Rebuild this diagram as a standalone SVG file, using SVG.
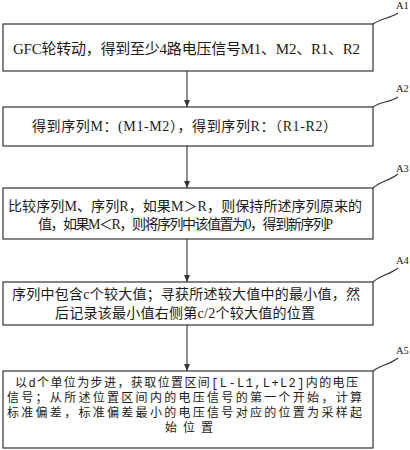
<svg xmlns="http://www.w3.org/2000/svg" width="410" height="450" viewBox="0 0 410 450">
<defs>
<style>
.box{fill:#fff;stroke:#333;stroke-width:1.2}
.t{font-family:"Liberation Serif","Noto Sans CJK SC",serif;fill:#1a1a1a}
.b{font-size:14px}
.s{font-size:12px}
.lbl{font-family:"Liberation Serif",serif;font-size:10.5px;fill:#1a1a1a}
.ld{fill:none;stroke:#333;stroke-width:1.1}
.cn{stroke:#333;stroke-width:1.1;fill:none}
.m{font-family:"Liberation Mono",monospace}
</style>
<marker id="ah" markerWidth="8" markerHeight="8" refX="7" refY="4" orient="auto" markerUnits="userSpaceOnUse">
<path d="M0,1 L7,4 L0,7 Z" fill="#333"/>
</marker>
</defs>
<rect width="410" height="450" fill="#fff"/>
<g id="connectors">
<line class="cn" x1="187" y1="71" x2="187" y2="107" marker-end="url(#ah)"/>
<line class="cn" x1="187" y1="146" x2="187" y2="188" marker-end="url(#ah)"/>
<line class="cn" x1="187" y1="239" x2="187" y2="282" marker-end="url(#ah)"/>
<line class="cn" x1="187" y1="325" x2="187" y2="371" marker-end="url(#ah)"/>
</g>
<g id="A1">
<rect class="box" x="3" y="24" width="370" height="47"/>
<text class="t" x="13" y="54" font-size="15" textLength="347" lengthAdjust="spacing">GFC轮转动，得到至少4路电压信号M1、M2、R1、R2</text>
<path class="ld" d="M373,24 C381,18 389,19 398,13"/>
<text class="lbl" x="396" y="9">A1</text>
</g>
<g id="A2">
<rect class="box" x="3" y="107" width="370" height="39"/>
<text class="t b" x="32" y="131" textLength="305" lengthAdjust="spacing">得到序列M：(M1-M2），得到序列R：（R1-R2）</text>
<path class="ld" d="M373,107 C381,101 389,103 398,97"/>
<text class="lbl" x="396" y="92">A2</text>
</g>
<g id="A3">
<rect class="box" x="3" y="188" width="370" height="51"/>
<text class="t b" x="8" y="211" textLength="354" lengthAdjust="spacing">比较序列M、序列R，如果M＞R，则保持所述序列原来的</text>
<text class="t b" x="38" y="229" textLength="295" lengthAdjust="spacing">值，如果M＜R，则将序列中该值置为0，得到新序列P</text>
<path class="ld" d="M373,188 C381,181 389,181 398,174"/>
<text class="lbl" x="396" y="172">A3</text>
</g>
<g id="A4">
<rect class="box" x="3" y="282" width="370" height="43"/>
<text class="t b" x="12" y="299" textLength="348" lengthAdjust="spacing">序列中包含c个较大值；寻获所述较大值中的最小值，然</text>
<text class="t b" x="55" y="318" textLength="260" lengthAdjust="spacing">后记录该最小值右侧第c/2个较大值的位置</text>
<path class="ld" d="M373,282 C381,275 389,275 398,268"/>
<text class="lbl" x="396" y="264">A4</text>
</g>
<g id="A5">
<rect class="box" x="3" y="371" width="370" height="77"/>
<text class="t s" x="15" y="387" textLength="343" lengthAdjust="spacing">以<tspan class="m">d</tspan>个单位为步进，获取位置区间<tspan class="m">[L-L1,L+L2]</tspan>内的电压</text>
<text class="t s" x="7" y="402" textLength="355" lengthAdjust="spacing">信号；从所述位置区间内的电压信号的第一个开始，计算</text>
<text class="t s" x="7" y="417" textLength="355" lengthAdjust="spacing">标准偏差，标准偏差最小的电压信号对应的位置为采样起</text>
<text class="t s" x="165" y="432" textLength="48" lengthAdjust="spacing">始位置</text>
<path class="ld" d="M373,371 C381,365 389,365 398,358"/>
<text class="lbl" x="396" y="354">A5</text>
</g>
</svg>
